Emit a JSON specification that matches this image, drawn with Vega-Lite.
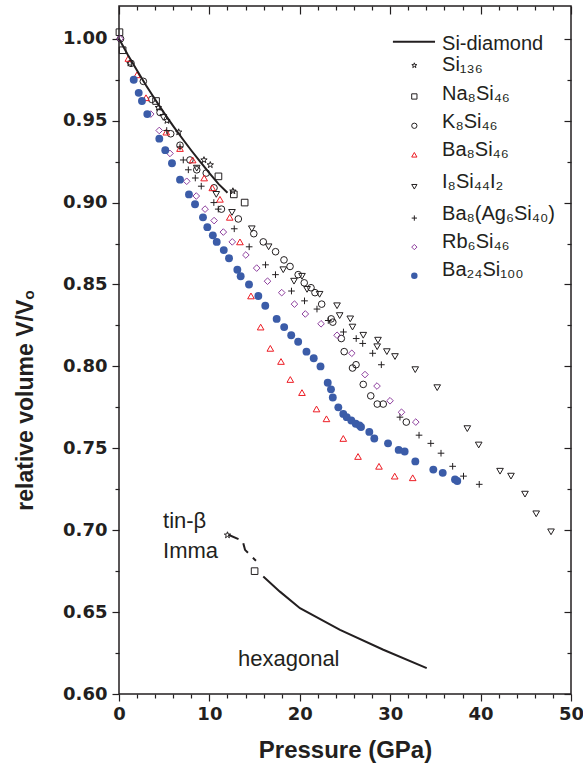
{
  "$schema": "https://vega.github.io/schema/vega-lite/v6.json",
  "width": 452,
  "height": 688,
  "autosize": {"type": "none"},
  "padding": {"left": 119, "top": 6, "right": 12, "bottom": 77},
  "background": "white",
  "config": {"view": {"stroke": "#231f20", "strokeWidth": 1.5}, "axis": {"grid": false, "domain": false, "tickColor": "#231f20", "tickWidth": 1.2}},
  "datasets": {
    "points": [
      {"series": "Si136", "P": 1.2, "V": 0.985}, {"series": "Si136", "P": 4.35, "V": 0.958}, {"series": "Si136", "P": 5.3, "V": 0.95}, {"series": "Si136", "P": 6.6, "V": 0.943}, {"series": "Si136", "P": 9.4, "V": 0.926}, {"series": "Si136", "P": 10.1, "V": 0.923}, {"series": "Si136", "P": 12.6, "V": 0.907}, {"series": "Si136", "P": 12.0, "V": 0.697},
      {"series": "Na8Si46", "P": 0.05, "V": 1.004}, {"series": "Na8Si46", "P": 0.4, "V": 0.993}, {"series": "Na8Si46", "P": 4.1, "V": 0.962}, {"series": "Na8Si46", "P": 11.0, "V": 0.916}, {"series": "Na8Si46", "P": 12.7, "V": 0.905}, {"series": "Na8Si46", "P": 13.9, "V": 0.9}, {"series": "Na8Si46", "P": 15.0, "V": 0.675},
      {"series": "K8Si46", "P": 0.17, "V": 1.0}, {"series": "K8Si46", "P": 1.33, "V": 0.985}, {"series": "K8Si46", "P": 2.69, "V": 0.974}, {"series": "K8Si46", "P": 3.62, "V": 0.963}, {"series": "K8Si46", "P": 4.54, "V": 0.955}, {"series": "K8Si46", "P": 5.72, "V": 0.942}, {"series": "K8Si46", "P": 6.75, "V": 0.935}, {"series": "K8Si46", "P": 7.85, "V": 0.926}, {"series": "K8Si46", "P": 8.6, "V": 0.92}, {"series": "K8Si46", "P": 9.65, "V": 0.918}, {"series": "K8Si46", "P": 10.51, "V": 0.909}, {"series": "K8Si46", "P": 11.33, "V": 0.896}, {"series": "K8Si46", "P": 13.2, "V": 0.89}, {"series": "K8Si46", "P": 14.91, "V": 0.881}, {"series": "K8Si46", "P": 15.96, "V": 0.876}, {"series": "K8Si46", "P": 17.32, "V": 0.87}, {"series": "K8Si46", "P": 18.25, "V": 0.865}, {"series": "K8Si46", "P": 18.92, "V": 0.861}, {"series": "K8Si46", "P": 19.82, "V": 0.856}, {"series": "K8Si46", "P": 20.49, "V": 0.851}, {"series": "K8Si46", "P": 21.24, "V": 0.848}, {"series": "K8Si46", "P": 21.68, "V": 0.845}, {"series": "K8Si46", "P": 22.42, "V": 0.838}, {"series": "K8Si46", "P": 23.47, "V": 0.829}, {"series": "K8Si46", "P": 23.65, "V": 0.827}, {"series": "K8Si46", "P": 24.59, "V": 0.817}, {"series": "K8Si46", "P": 24.91, "V": 0.809}, {"series": "K8Si46", "P": 25.83, "V": 0.799}, {"series": "K8Si46", "P": 26.22, "V": 0.801}, {"series": "K8Si46", "P": 27.02, "V": 0.789}, {"series": "K8Si46", "P": 27.85, "V": 0.782}, {"series": "K8Si46", "P": 28.57, "V": 0.777}, {"series": "K8Si46", "P": 29.23, "V": 0.777}, {"series": "K8Si46", "P": 31.78, "V": 0.766},
      {"series": "Ba8Si46", "P": 1.03, "V": 0.988}, {"series": "Ba8Si46", "P": 1.99, "V": 0.978}, {"series": "Ba8Si46", "P": 2.99, "V": 0.964}, {"series": "Ba8Si46", "P": 5.23, "V": 0.943}, {"series": "Ba8Si46", "P": 6.75, "V": 0.933}, {"series": "Ba8Si46", "P": 8.15, "V": 0.926}, {"series": "Ba8Si46", "P": 9.42, "V": 0.915}, {"series": "Ba8Si46", "P": 10.32, "V": 0.909}, {"series": "Ba8Si46", "P": 11.17, "V": 0.902}, {"series": "Ba8Si46", "P": 12.25, "V": 0.891}, {"series": "Ba8Si46", "P": 13.38, "V": 0.876}, {"series": "Ba8Si46", "P": 14.6, "V": 0.843}, {"series": "Ba8Si46", "P": 15.67, "V": 0.824}, {"series": "Ba8Si46", "P": 16.74, "V": 0.811}, {"series": "Ba8Si46", "P": 17.92, "V": 0.803}, {"series": "Ba8Si46", "P": 18.95, "V": 0.792}, {"series": "Ba8Si46", "P": 20.24, "V": 0.784}, {"series": "Ba8Si46", "P": 21.85, "V": 0.774}, {"series": "Ba8Si46", "P": 22.95, "V": 0.768}, {"series": "Ba8Si46", "P": 24.81, "V": 0.756}, {"series": "Ba8Si46", "P": 26.44, "V": 0.745}, {"series": "Ba8Si46", "P": 28.76, "V": 0.739}, {"series": "Ba8Si46", "P": 30.5, "V": 0.733}, {"series": "Ba8Si46", "P": 32.49, "V": 0.732},
      {"series": "I8Si44I2", "P": 4.9, "V": 0.952}, {"series": "I8Si44I2", "P": 8.6, "V": 0.921}, {"series": "I8Si44I2", "P": 10.76, "V": 0.905}, {"series": "I8Si44I2", "P": 12.5, "V": 0.894}, {"series": "I8Si44I2", "P": 14.69, "V": 0.884}, {"series": "I8Si44I2", "P": 16.55, "V": 0.873}, {"series": "I8Si44I2", "P": 18.17, "V": 0.859}, {"series": "I8Si44I2", "P": 19.36, "V": 0.852}, {"series": "I8Si44I2", "P": 20.24, "V": 0.855}, {"series": "I8Si44I2", "P": 20.8, "V": 0.847}, {"series": "I8Si44I2", "P": 22.19, "V": 0.844}, {"series": "I8Si44I2", "P": 24.12, "V": 0.837}, {"series": "I8Si44I2", "P": 24.41, "V": 0.831}, {"series": "I8Si44I2", "P": 25.58, "V": 0.829}, {"series": "I8Si44I2", "P": 25.83, "V": 0.824}, {"series": "I8Si44I2", "P": 27.02, "V": 0.819}, {"series": "I8Si44I2", "P": 28.65, "V": 0.816}, {"series": "I8Si44I2", "P": 28.56, "V": 0.812}, {"series": "I8Si44I2", "P": 29.63, "V": 0.809}, {"series": "I8Si44I2", "P": 30.53, "V": 0.806}, {"series": "I8Si44I2", "P": 32.77, "V": 0.798}, {"series": "I8Si44I2", "P": 35.2, "V": 0.787}, {"series": "I8Si44I2", "P": 38.53, "V": 0.762}, {"series": "I8Si44I2", "P": 39.79, "V": 0.752}, {"series": "I8Si44I2", "P": 42.15, "V": 0.736}, {"series": "I8Si44I2", "P": 43.36, "V": 0.733}, {"series": "I8Si44I2", "P": 44.91, "V": 0.722}, {"series": "I8Si44I2", "P": 46.15, "V": 0.71}, {"series": "I8Si44I2", "P": 47.79, "V": 0.699},
      {"series": "Ba8(Ag6Si40)", "P": 5.28, "V": 0.944}, {"series": "Ba8(Ag6Si40)", "P": 6.75, "V": 0.934}, {"series": "Ba8(Ag6Si40)", "P": 7.11, "V": 0.926}, {"series": "Ba8(Ag6Si40)", "P": 7.67, "V": 0.92}, {"series": "Ba8(Ag6Si40)", "P": 8.44, "V": 0.915}, {"series": "Ba8(Ag6Si40)", "P": 9.1, "V": 0.91}, {"series": "Ba8(Ag6Si40)", "P": 10.49, "V": 0.9}, {"series": "Ba8(Ag6Si40)", "P": 10.98, "V": 0.896}, {"series": "Ba8(Ag6Si40)", "P": 12.75, "V": 0.884}, {"series": "Ba8(Ag6Si40)", "P": 14.4, "V": 0.873}, {"series": "Ba8(Ag6Si40)", "P": 16.21, "V": 0.862}, {"series": "Ba8(Ag6Si40)", "P": 17.31, "V": 0.856}, {"series": "Ba8(Ag6Si40)", "P": 19.08, "V": 0.846}, {"series": "Ba8(Ag6Si40)", "P": 20.52, "V": 0.84}, {"series": "Ba8(Ag6Si40)", "P": 21.9, "V": 0.835}, {"series": "Ba8(Ag6Si40)", "P": 23.15, "V": 0.828}, {"series": "Ba8(Ag6Si40)", "P": 24.83, "V": 0.821}, {"series": "Ba8(Ag6Si40)", "P": 26.24, "V": 0.817}, {"series": "Ba8(Ag6Si40)", "P": 26.96, "V": 0.814}, {"series": "Ba8(Ag6Si40)", "P": 28.06, "V": 0.808}, {"series": "Ba8(Ag6Si40)", "P": 29.02, "V": 0.801}, {"series": "Ba8(Ag6Si40)", "P": 31.08, "V": 0.769}, {"series": "Ba8(Ag6Si40)", "P": 33.19, "V": 0.758}, {"series": "Ba8(Ag6Si40)", "P": 34.49, "V": 0.753}, {"series": "Ba8(Ag6Si40)", "P": 35.62, "V": 0.747}, {"series": "Ba8(Ag6Si40)", "P": 36.91, "V": 0.739}, {"series": "Ba8(Ag6Si40)", "P": 38.11, "V": 0.733}, {"series": "Ba8(Ag6Si40)", "P": 39.85, "V": 0.728},
      {"series": "Rb6Si46", "P": 0.11, "V": 1.0}, {"series": "Rb6Si46", "P": 3.51, "V": 0.954}, {"series": "Rb6Si46", "P": 4.45, "V": 0.944}, {"series": "Rb6Si46", "P": 5.64, "V": 0.93}, {"series": "Rb6Si46", "P": 7.49, "V": 0.913}, {"series": "Rb6Si46", "P": 8.55, "V": 0.904}, {"series": "Rb6Si46", "P": 9.52, "V": 0.896}, {"series": "Rb6Si46", "P": 10.52, "V": 0.889}, {"series": "Rb6Si46", "P": 11.54, "V": 0.882}, {"series": "Rb6Si46", "P": 12.53, "V": 0.876}, {"series": "Rb6Si46", "P": 14.03, "V": 0.868}, {"series": "Rb6Si46", "P": 15.23, "V": 0.86}, {"series": "Rb6Si46", "P": 16.43, "V": 0.852}, {"series": "Rb6Si46", "P": 18.0, "V": 0.845}, {"series": "Rb6Si46", "P": 19.41, "V": 0.838}, {"series": "Rb6Si46", "P": 20.61, "V": 0.832}, {"series": "Rb6Si46", "P": 22.35, "V": 0.826}, {"series": "Rb6Si46", "P": 24.12, "V": 0.819}, {"series": "Rb6Si46", "P": 25.75, "V": 0.808}, {"series": "Rb6Si46", "P": 27.21, "V": 0.795}, {"series": "Rb6Si46", "P": 28.54, "V": 0.788}, {"series": "Rb6Si46", "P": 29.98, "V": 0.779}, {"series": "Rb6Si46", "P": 31.25, "V": 0.772}, {"series": "Rb6Si46", "P": 32.83, "V": 0.766}
    ],
    "filledpts": [
      {"series": "Ba24Si100", "P": 1.63, "V": 0.975}, {"series": "Ba24Si100", "P": 2.18, "V": 0.967}, {"series": "Ba24Si100", "P": 2.54, "V": 0.962}, {"series": "Ba24Si100", "P": 3.13, "V": 0.954}, {"series": "Ba24Si100", "P": 4.46, "V": 0.939}, {"series": "Ba24Si100", "P": 5.12, "V": 0.932}, {"series": "Ba24Si100", "P": 5.86, "V": 0.924}, {"series": "Ba24Si100", "P": 6.75, "V": 0.914}, {"series": "Ba24Si100", "P": 7.74, "V": 0.905}, {"series": "Ba24Si100", "P": 8.41, "V": 0.899}, {"series": "Ba24Si100", "P": 9.29, "V": 0.891}, {"series": "Ba24Si100", "P": 9.77, "V": 0.885}, {"series": "Ba24Si100", "P": 10.38, "V": 0.88}, {"series": "Ba24Si100", "P": 10.81, "V": 0.876}, {"series": "Ba24Si100", "P": 11.59, "V": 0.871}, {"series": "Ba24Si100", "P": 12.17, "V": 0.866}, {"series": "Ba24Si100", "P": 13.09, "V": 0.859}, {"series": "Ba24Si100", "P": 13.46, "V": 0.855}, {"series": "Ba24Si100", "P": 14.38, "V": 0.85}, {"series": "Ba24Si100", "P": 15.41, "V": 0.843}, {"series": "Ba24Si100", "P": 16.18, "V": 0.837}, {"series": "Ba24Si100", "P": 17.44, "V": 0.829}, {"series": "Ba24Si100", "P": 18.27, "V": 0.824}, {"series": "Ba24Si100", "P": 19.05, "V": 0.819}, {"series": "Ba24Si100", "P": 19.82, "V": 0.815}, {"series": "Ba24Si100", "P": 20.74, "V": 0.809}, {"series": "Ba24Si100", "P": 21.54, "V": 0.805}, {"series": "Ba24Si100", "P": 22.29, "V": 0.8}, {"series": "Ba24Si100", "P": 23.09, "V": 0.79}, {"series": "Ba24Si100", "P": 23.45, "V": 0.786}, {"series": "Ba24Si100", "P": 23.65, "V": 0.781}, {"series": "Ba24Si100", "P": 24.26, "V": 0.775}, {"series": "Ba24Si100", "P": 24.81, "V": 0.771}, {"series": "Ba24Si100", "P": 25.19, "V": 0.769}, {"series": "Ba24Si100", "P": 25.7, "V": 0.767}, {"series": "Ba24Si100", "P": 26.19, "V": 0.765}, {"series": "Ba24Si100", "P": 26.6, "V": 0.764}, {"series": "Ba24Si100", "P": 26.77, "V": 0.763}, {"series": "Ba24Si100", "P": 27.69, "V": 0.76}, {"series": "Ba24Si100", "P": 28.24, "V": 0.756}, {"series": "Ba24Si100", "P": 29.76, "V": 0.753}, {"series": "Ba24Si100", "P": 30.94, "V": 0.749}, {"series": "Ba24Si100", "P": 31.6, "V": 0.748}, {"series": "Ba24Si100", "P": 32.78, "V": 0.742}, {"series": "Ba24Si100", "P": 34.77, "V": 0.737}, {"series": "Ba24Si100", "P": 35.81, "V": 0.735}, {"series": "Ba24Si100", "P": 37.17, "V": 0.731}, {"series": "Ba24Si100", "P": 37.42, "V": 0.73}
    ],
    "lines": [
      {"series": "Si-diamond", "P": 0, "V": 1.0}, {"series": "Si-diamond", "P": 1, "V": 0.99}, {"series": "Si-diamond", "P": 2, "V": 0.9806}, {"series": "Si-diamond", "P": 3, "V": 0.9715}, {"series": "Si-diamond", "P": 4, "V": 0.9629}, {"series": "Si-diamond", "P": 5, "V": 0.9546}, {"series": "Si-diamond", "P": 6, "V": 0.9467}, {"series": "Si-diamond", "P": 7, "V": 0.9391}, {"series": "Si-diamond", "P": 8, "V": 0.9318}, {"series": "Si-diamond", "P": 9, "V": 0.9248}, {"series": "Si-diamond", "P": 10, "V": 0.918}, {"series": "Si-diamond", "P": 11, "V": 0.9114}, {"series": "Si-diamond", "P": 12, "V": 0.906},
      {"series": "hexagonal", "P": 15.96, "V": 0.6717}, {"series": "hexagonal", "P": 17.8, "V": 0.6625}, {"series": "hexagonal", "P": 20.02, "V": 0.6524}, {"series": "hexagonal", "P": 24.45, "V": 0.6392}, {"series": "hexagonal", "P": 29.24, "V": 0.627}, {"series": "hexagonal", "P": 34.04, "V": 0.6158}
    ],
    "dashed": [
      {"series": "tin-beta", "P": 12.1, "V": 0.6972}, {"series": "tin-beta", "P": 13.68, "V": 0.6935}, {"series": "tin-beta", "P": 13.94, "V": 0.688}, {"series": "tin-beta", "P": 15.15, "V": 0.6813}
    ],
    "notes": [
      {"text": "tin-β", "P": 4.87, "V": 0.7013},
      {"text": "Imma", "P": 4.87, "V": 0.683},
      {"text": "hexagonal", "P": 13.16, "V": 0.6172}
    ],
    "legendline": [
      {"P": 30.3, "P2": 34.96, "V": 0.99817}
    ],
    "legend": [
      {"series": "Si-diamond", "label": "Si-diamond", "P": 32.67, "V": 0.99817, "LV": 0.99328},
      {"series": "Si136", "label": "Si₁₃₆", "P": 32.67, "V": 0.9837, "LV": 0.98004},
      {"series": "Na8Si46", "label": "Na₈Si₄₆", "P": 32.67, "V": 0.96477, "LV": 0.96276},
      {"series": "K8Si46", "label": "K₈Si₄₆", "P": 32.67, "V": 0.94689, "LV": 0.94548},
      {"series": "Ba8Si46", "label": "Ba₈Si₄₆", "P": 32.67, "V": 0.92918, "LV": 0.92814},
      {"series": "I8Si44I2", "label": "I₈Si₄₄I₂", "P": 32.67, "V": 0.90965, "LV": 0.90885},
      {"series": "Ba8(Ag6Si40)", "label": "Ba₈(Ag₆Si₄₀)", "P": 32.67, "V": 0.89054, "LV": 0.8895},
      {"series": "Rb6Si46", "label": "Rb₆Si₄₆", "P": 32.67, "V": 0.87283, "LV": 0.87222},
      {"series": "Ba24Si100", "label": "Ba₂₄Si₁₀₀", "P": 32.67, "V": 0.85531, "LV": 0.85488}
    ]
  },
  "layer": [
    {
      "data": {"name": "points"},
      "mark": {"type": "point", "strokeWidth": 1, "opacity": 1, "size": 44, "filled": false},
      "encoding": {
        "x": {"field": "P", "type": "quantitative", "scale": {"domain": [0, 50], "nice": false, "zero": false},
          "axis": {"orient": "bottom", "values": [0, 10, 20, 30, 40, 50], "tickSize": 7,
            "labelFont": "DejaVu Sans", "labelFontWeight": "bold", "labelFontSize": 18, "labelColor": "#231f20",
            "labelPadding": 4, "labelFlush": false, "labelOverlap": false,
            "title": "Pressure (GPa)", "titleFont": "Liberation Sans", "titleFontSize": 24, "titleFontWeight": "bold", "titleColor": "#231f20", "titlePadding": 15}},
        "y": {"field": "V", "type": "quantitative", "scale": {"domain": [0.6, 1.02], "nice": false, "zero": false},
          "axis": {"orient": "left", "values": [0.6, 0.65, 0.7, 0.75, 0.8, 0.85, 0.9, 0.95, 1.0], "tickSize": 7, "format": ".2f",
            "labelFont": "DejaVu Sans", "labelFontWeight": "bold", "labelFontSize": 18, "labelColor": "#231f20",
            "labelPadding": 5, "labelFlush": false, "labelOverlap": false,
            "title": "relative volume V/Vₒ", "titleFont": "Liberation Sans", "titleFontSize": 23, "titleFontWeight": "bold", "titleColor": "#231f20", "titlePadding": 25, "titleY": 394}},
        "shape": {"field": "series", "type": "nominal", "legend": null,
          "scale": {"domain": ["Si136","Na8Si46","K8Si46","Ba8Si46","I8Si44I2","Ba8(Ag6Si40)","Rb6Si46"],
            "range": ["M0,-1L0.235,-0.324L0.951,-0.309L0.38,0.124L0.588,0.809L0,0.4L-0.588,0.809L-0.38,0.124L-0.951,-0.309L-0.235,-0.324Z","square","circle","triangle-up","triangle-down","M-1,0H1M0,-1V1","diamond"]}},
        "color": {"field": "series", "type": "nominal", "legend": null,
          "scale": {"domain": ["Si136","Na8Si46","K8Si46","Ba8Si46","I8Si44I2","Ba8(Ag6Si40)","Rb6Si46"],
            "range": ["#231f20","#231f20","#231f20","#ed1c24","#231f20","#231f20","#8e3f9e"]}}
      }
    },
    {
      "data": {"name": "filledpts"},
      "mark": {"type": "circle", "size": 62, "opacity": 1, "color": "#3b5ca8"},
      "encoding": {
        "x": {"field": "P", "type": "quantitative", "scale": {"domain": [0, 50], "nice": false, "zero": false}, "axis": null},
        "y": {"field": "V", "type": "quantitative", "scale": {"domain": [0.6, 1.02], "nice": false, "zero": false}, "axis": null}
      }
    },
    {
      "data": {"name": "lines"},
      "mark": {"type": "line", "stroke": "#231f20", "strokeWidth": 2},
      "encoding": {
        "x": {"field": "P", "type": "quantitative", "scale": {"domain": [0, 50], "nice": false, "zero": false},
          "axis": {"orient": "top", "values": [0, 10, 20, 30, 40, 50], "labels": false, "title": null, "tickSize": -8}},
        "y": {"field": "V", "type": "quantitative", "scale": {"domain": [0.6, 1.02], "nice": false, "zero": false},
          "axis": {"orient": "right", "values": [0.6, 0.65, 0.7, 0.75, 0.8, 0.85, 0.9, 0.95, 1.0], "labels": false, "title": null, "tickSize": -7}},
        "detail": {"field": "series", "type": "nominal"}
      }
    },
    {
      "data": {"name": "dashed"},
      "mark": {"type": "line", "stroke": "#231f20", "strokeWidth": 2, "strokeDash": [11, 7]},
      "encoding": {
        "x": {"field": "P", "type": "quantitative", "scale": {"domain": [0, 50], "nice": false, "zero": false},
          "axis": {"orient": "bottom", "values": [2,4,6,8,12,14,16,18,22,24,26,28,32,34,36,38,42,44,46,48], "labels": false, "title": null, "tickSize": 4}},
        "y": {"field": "V", "type": "quantitative", "scale": {"domain": [0.6, 1.02], "nice": false, "zero": false},
          "axis": {"orient": "left", "values": [0.625, 0.675, 0.725, 0.775, 0.825, 0.875, 0.925, 0.975], "labels": false, "title": null, "tickSize": 4}}
      }
    },
    {
      "data": {"name": "notes"},
      "mark": {"type": "text", "align": "left", "baseline": "alphabetic", "font": "Liberation Sans", "fontSize": 22, "color": "#231f20"},
      "encoding": {
        "x": {"field": "P", "type": "quantitative", "scale": {"domain": [0, 50], "nice": false, "zero": false},
          "axis": {"orient": "top", "values": [2,4,6,8,12,14,16,18,22,24,26,28,32,34,36,38,42,44,46,48], "labels": false, "title": null, "tickSize": -4}},
        "y": {"field": "V", "type": "quantitative", "scale": {"domain": [0.6, 1.02], "nice": false, "zero": false},
          "axis": {"orient": "right", "values": [0.625, 0.675, 0.725, 0.775, 0.825, 0.875, 0.925, 0.975], "labels": false, "title": null, "tickSize": -4}},
        "text": {"field": "text"}
      }
    },
    {
      "data": {"name": "legendline"},
      "mark": {"type": "rule", "stroke": "#231f20", "strokeWidth": 2},
      "encoding": {
        "x": {"field": "P", "type": "quantitative", "scale": {"domain": [0, 50], "nice": false, "zero": false}, "axis": null},
        "x2": {"field": "P2"},
        "y": {"field": "V", "type": "quantitative", "scale": {"domain": [0.6, 1.02], "nice": false, "zero": false}, "axis": null}
      }
    },
    {
      "data": {"name": "legend"},
      "transform": [{"filter": "datum.series !== 'Si-diamond' && datum.series !== 'Ba24Si100'"}],
      "mark": {"type": "point", "strokeWidth": 1, "opacity": 1, "size": 28, "filled": false},
      "encoding": {
        "x": {"field": "P", "type": "quantitative", "scale": {"domain": [0, 50], "nice": false, "zero": false}, "axis": null},
        "y": {"field": "V", "type": "quantitative", "scale": {"domain": [0.6, 1.02], "nice": false, "zero": false}, "axis": null},
        "shape": {"field": "series", "type": "nominal", "legend": null,
          "scale": {"domain": ["Si136","Na8Si46","K8Si46","Ba8Si46","I8Si44I2","Ba8(Ag6Si40)","Rb6Si46"],
            "range": ["M0,-1L0.235,-0.324L0.951,-0.309L0.38,0.124L0.588,0.809L0,0.4L-0.588,0.809L-0.38,0.124L-0.951,-0.309L-0.235,-0.324Z","square","circle","triangle-up","triangle-down","M-1,0H1M0,-1V1","diamond"]}},
        "color": {"field": "series", "type": "nominal", "legend": null,
          "scale": {"domain": ["Si136","Na8Si46","K8Si46","Ba8Si46","I8Si44I2","Ba8(Ag6Si40)","Rb6Si46"],
            "range": ["#231f20","#231f20","#231f20","#ed1c24","#231f20","#231f20","#8e3f9e"]}}
      }
    },
    {
      "data": {"name": "legend"},
      "transform": [{"filter": "datum.series === 'Ba24Si100'"}],
      "mark": {"type": "circle", "size": 42, "opacity": 1, "color": "#3b5ca8"},
      "encoding": {
        "x": {"field": "P", "type": "quantitative", "scale": {"domain": [0, 50], "nice": false, "zero": false}, "axis": null},
        "y": {"field": "V", "type": "quantitative", "scale": {"domain": [0.6, 1.02], "nice": false, "zero": false}, "axis": null}
      }
    },
    {
      "data": {"name": "legend"},
      "mark": {"type": "text", "align": "left", "baseline": "alphabetic", "font": "Liberation Sans", "fontSize": 20, "color": "#231f20", "dx": 27.7},
      "encoding": {
        "x": {"field": "P", "type": "quantitative", "scale": {"domain": [0, 50], "nice": false, "zero": false}, "axis": null},
        "y": {"field": "LV", "type": "quantitative", "scale": {"domain": [0.6, 1.02], "nice": false, "zero": false}, "axis": null},
        "text": {"field": "label"}
      }
    }
  ],
  "resolve": {"axis": {"x": "independent", "y": "independent"}}
}
